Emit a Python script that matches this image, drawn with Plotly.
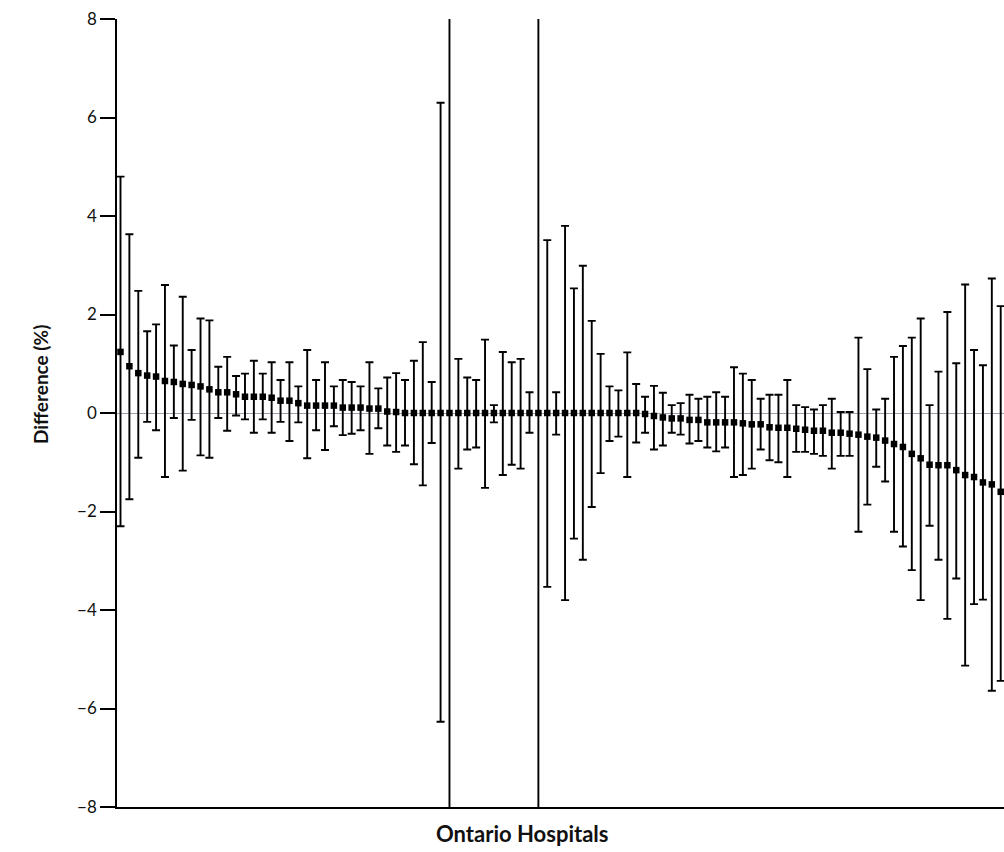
import plotly.graph_objects as go

hospital = list(range(1, 101))
difference = [1.24, 0.95, 0.81, 0.76, 0.74, 0.65, 0.63, 0.59, 0.57, 0.54,
              0.48, 0.42, 0.42, 0.38, 0.33, 0.33, 0.33, 0.31, 0.25, 0.25,
              0.20, 0.15, 0.15, 0.15, 0.15, 0.11, 0.11, 0.11, 0.09, 0.09,
              0.03, 0.02, 0.00, 0.00, 0.00, 0.00, 0.00, 0.00, 0.00, 0.00,
              0.00, 0.00, 0.00, 0.00, 0.00, 0.00, 0.00, 0.00, 0.00, 0.00,
              0.00, 0.00, 0.00, 0.00, 0.00, 0.00, 0.00, 0.00, 0.00, -0.02,
              -0.06, -0.09, -0.11, -0.11, -0.14, -0.14, -0.19, -0.19, -0.19, -0.19,
              -0.21, -0.23, -0.23, -0.29, -0.30, -0.30, -0.32, -0.34, -0.36, -0.36,
              -0.40, -0.40, -0.42, -0.44, -0.48, -0.50, -0.56, -0.63, -0.69, -0.83,
              -0.92, -1.05, -1.06, -1.06, -1.16, -1.26, -1.30, -1.41, -1.45, -1.60]
upper = [4.80, 3.63, 2.48, 1.66, 1.80, 2.60, 1.37, 2.36, 1.28, 1.92,
         1.88, 0.94, 1.14, 0.75, 0.80, 1.06, 0.80, 1.03, 0.67, 1.03,
         0.54, 1.28, 0.67, 1.03, 0.54, 0.67, 0.63, 0.54, 1.03, 0.50,
         0.72, 0.81, 0.67, 1.06, 1.44, 0.63, 6.30, 12.0, 1.10, 0.72,
         0.67, 1.49, 0.16, 1.24, 1.03, 1.10, 0.42, 12.0, 3.51, 0.42,
         3.80, 2.53, 2.99, 1.87, 1.20, 0.54, 0.46, 1.23, 0.59, 0.33,
         0.55, 0.41, 0.16, 0.20, 0.37, 0.29, 0.33, 0.42, 0.33, 0.93,
         0.80, 0.67, 0.29, 0.37, 0.37, 0.67, 0.16, 0.12, 0.07, 0.16,
         0.29, 0.02, 0.02, 1.53, 0.89, 0.07, 0.29, 1.14, 1.36, 1.53,
         1.92, 0.16, 0.84, 2.05, 1.01, 2.61, 1.28, 0.97, 2.73, 2.17]
lower = [-2.30, -1.75, -0.91, -0.18, -0.35, -1.30, -0.10, -1.17, -0.14, -0.86,
         -0.91, -0.10, -0.36, -0.05, -0.13, -0.40, -0.13, -0.40, -0.18, -0.57,
         -0.19, -0.92, -0.35, -0.75, -0.27, -0.45, -0.42, -0.35, -0.83, -0.31,
         -0.66, -0.79, -0.66, -1.04, -1.47, -0.61, -6.27, -12.0, -1.13, -0.74,
         -0.70, -1.52, -0.19, -1.26, -1.05, -1.13, -0.40, -12.0, -3.53, -0.44,
         -3.80, -2.55, -2.98, -1.91, -1.22, -0.57, -0.48, -1.30, -0.60, -0.40,
         -0.74, -0.66, -0.40, -0.44, -0.62, -0.57, -0.70, -0.78, -0.70, -1.30,
         -1.26, -1.13, -0.74, -0.96, -1.00, -1.30, -0.79, -0.79, -0.83, -0.87,
         -1.13, -0.87, -0.87, -2.41, -1.86, -1.09, -1.39, -2.41, -2.71, -3.19,
         -3.80, -2.29, -2.98, -4.18, -3.36, -5.13, -3.88, -3.79, -5.64, -5.44]
y_ticks = [-8, -6, -4, -2, 0, 2, 4, 6, 8]
y_tick_labels = ["\u22128", "\u22126", "\u22124", "\u22122", "0", "2", "4", "6", "8"]

err_plus = [u - d for u, d in zip(upper, difference)]
err_minus = [d - l for d, l in zip(difference, lower)]

FONT = "Lato"

fig = go.Figure()
fig.add_trace(go.Scatter(
    x=hospital, y=difference, mode="markers",
    marker=dict(symbol="square", size=6.5, color="black"),
    error_y=dict(type="data", symmetric=False, array=err_plus, arrayminus=err_minus,
                 color="black", thickness=1.9, width=4),
    showlegend=False,
))

fig.update_layout(
    width=1004, height=852,
    margin=dict(l=117, r=0, t=19, b=45),
    plot_bgcolor="white", paper_bgcolor="white",
    font=dict(family=FONT, color="#111111", size=16),
    xaxis=dict(range=[0.606, 100.37], showticklabels=False, ticks="",
               showgrid=False, zeroline=False, showline=True,
               linecolor="black", linewidth=1.5),
    yaxis=dict(range=[-8, 8], tickvals=y_ticks, ticktext=y_tick_labels,
               ticks="outside", ticklen=15, tickwidth=1.5, tickcolor="black",
               showgrid=False, zeroline=True, zerolinecolor="#9aa3ad",
               zerolinewidth=1, showline=True, linecolor="black", linewidth=1.5,
               tickfont=dict(family=FONT, size=17, color="#111111")),
    annotations=[
        dict(text="<b>Ontario Hospitals</b>", xref="paper", yref="paper",
             x=0.4566, y=-0.033, xanchor="center", yanchor="middle",
             showarrow=False, font=dict(family=FONT, size=22, color="#111111")),
        dict(text="<b>Difference (%)</b>", xref="paper", yref="paper",
             x=-0.0868, y=0.5355, xanchor="center", yanchor="middle",
             textangle=-90, showarrow=False,
             font=dict(family=FONT, size=19, color="#111111")),
    ],
)

fig.write_html("out.html", config={"displayModeBar": False},
               post_script="document.body.style.margin='0';document.body.style.overflow='hidden';")
